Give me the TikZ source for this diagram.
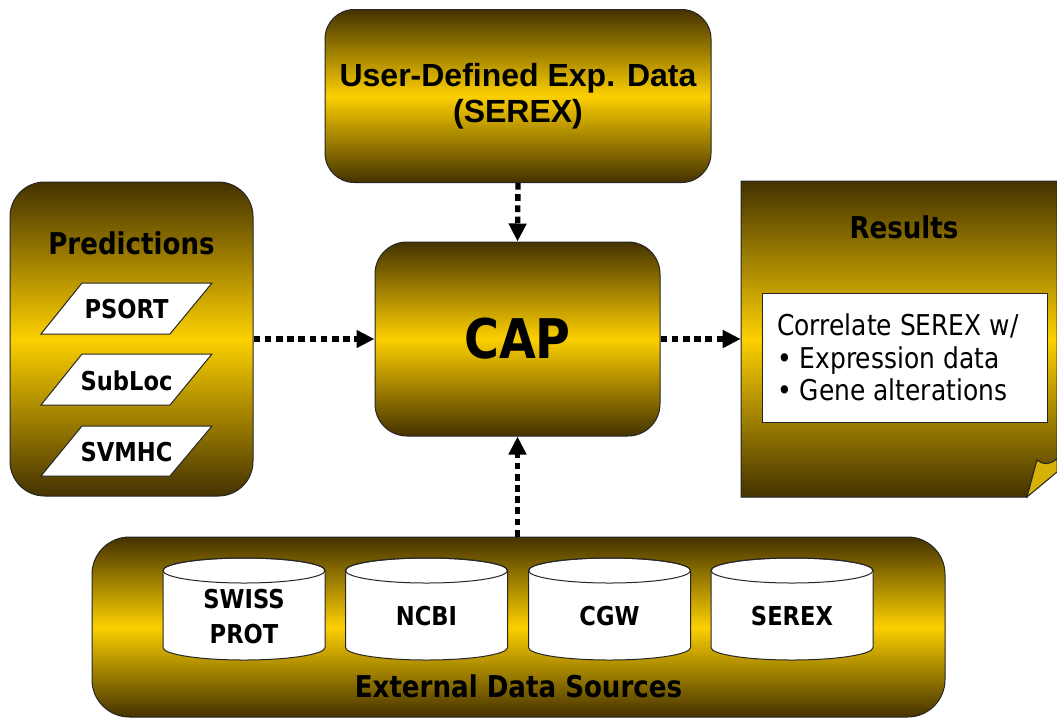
\documentclass[tikz,border=0pt]{standalone}
\usepackage{fontspec}
\setmainfont{DejaVu Sans}[FakeStretch=0.87]
\newfontfamily\arialfont{Liberation Sans}
\usetikzlibrary{arrows.meta}
\definecolor{dk}{RGB}{68,50,0}
\definecolor{gd}{RGB}{252,207,0}
\definecolor{flapgold}{RGB}{214,178,8}
\newcommand\setfs[2]{\fontsize{#1}{#2}\selectfont}
\begin{document}
\begin{tikzpicture}[x=0.75pt,y=-0.75pt,
  outline/.style={draw=black!85, line width=0.75pt},
  goldbox/.style={outline, rounded corners=#1, top color=dk, bottom color=dk, middle color=gd, inner sep=0pt},
  goldfill/.style={outline, top color=dk, bottom color=dk, middle color=gd},
  whitebox/.style={outline, fill=white},
  heading/.style={anchor=base, inner sep=0pt, font=\bfseries\setfs{22.5pt}{26pt}},
  itemlabel/.style={anchor=base, inner sep=0pt, font=\bfseries\setfs{19.5pt}{23pt}},
  bodytext/.style={anchor=base west, inner sep=0pt, font=\setfs{21.5pt}{25pt}},
  flow/.style={line width=4pt, dash pattern=on 5pt off 3.4pt, -{Triangle[length=13.5pt,width=12.75pt]}},
  dbcyl/.pic={
    \draw[whitebox] (-81,-38.5) -- (-81,38.5)
      arc[start angle=180, end angle=0, x radius=81, y radius=12.5]
      -- (81,-38.5)
      arc[start angle=0, end angle=-180, x radius=81, y radius=12.5] -- cycle;
    \draw[outline] (0,-38.5) ellipse[x radius=81, y radius=12.5];
  }
]
\useasboundingbox (0,0) rectangle (1057,719);

% user-defined experimental data
\node[goldbox=22pt, minimum width=289.5pt, minimum height=129.75pt, align=center,
      font=\arialfont\bfseries\setfs{24pt}{27pt}] (user) at (518,96)
      {User-Defined Exp. Data\\(SEREX)};

% predictions panel
\node[goldbox=26pt, minimum width=182.25pt, minimum height=235.5pt] (pred) at (131.5,339) {};
\node[heading] (predt) at (131.5,254) {Predictions};
\draw[whitebox] (82,283) -- (212,283) -- (170,334) -- (41,334) -- cycle;
\node[itemlabel] (psort) at (126.5,318) {PSORT};
\draw[whitebox] (82,354) -- (212,354) -- (170,405) -- (41,405) -- cycle;
\node[itemlabel] (subloc) at (126.5,390) {SubLoc};
\draw[whitebox] (82,426) -- (212,426) -- (170,476) -- (41,476) -- cycle;
\node[itemlabel] (svmhc) at (126.5,461) {SVMHC};

% central box
\node[goldbox=24pt, minimum width=213.75pt, minimum height=145.5pt,
      font=\bfseries\setfs{41pt}{48pt}] (cap) at (517.5,339) {CAP};

% results document with folded corner
\node[minimum width=237pt, minimum height=236.25pt, inner sep=0pt] (results) at (899,339) {};
\path[goldfill] (741,181) -- (1057,181) -- (1057,459)
  .. controls (1050,464) and (1045,466) .. (1037,460)
  -- (1027,497) -- (741,497) -- cycle;
\draw[outline, fill=flapgold] (1027,497) -- (1037,460)
  .. controls (1045,466) and (1050,464) .. (1057,459)
  -- (1057,472) -- cycle;
\node[heading] (rest) at (904,238) {Results};
\draw[whitebox] (762,293) rectangle (1047,422);
\node[bodytext] (r1) at (777,335) {Correlate SEREX w/};
\node[bodytext] (r2) at (777,368) {\textbullet\ Expression data};
\node[bodytext] (r3) at (777,400) {\textbullet\ Gene alterations};

% external data sources
\node[goldbox=28pt, minimum width=639.75pt, minimum height=135pt] (ext) at (518.5,627) {};
\pic at (244,609) {dbcyl};
\pic at (426.5,609) {dbcyl};
\pic at (609.5,609) {dbcyl};
\pic at (792,609) {dbcyl};
\node[itemlabel] (swiss) at (244,608) {SWISS};
\node[itemlabel] (prot) at (244,643) {PROT};
\node[itemlabel] (ncbi) at (426.5,625) {NCBI};
\node[itemlabel] (cgw) at (609.5,625) {CGW};
\node[itemlabel] (serex) at (792,625) {SEREX};
\node[heading] (extt) at (518.5,697) {External Data Sources};

% data flow
\draw[flow] (user.south) -- (cap.north);
\draw[flow] (pred.east) -- (cap.west);
\draw[flow] (cap.east) -- (results.west);
\draw[flow] (ext.north -| cap.south) -- (cap.south);
\end{tikzpicture}
\end{document}
